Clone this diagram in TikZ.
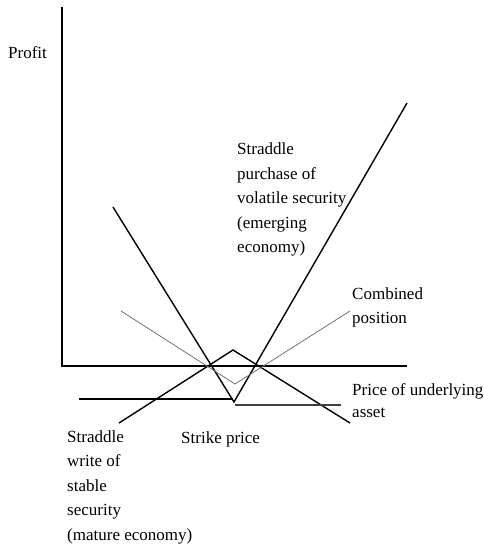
\documentclass[tikz,border=0pt]{standalone}
\usepackage{fontspec}
\setmainfont{Liberation Serif}
\begin{document}
\begin{tikzpicture}[x=1pt,y=-1pt,
  lbl/.style={anchor=north west,inner sep=0pt,align=left,font=\fontsize{17}{24.5}\selectfont},
  axis/.style={line width=1.2pt},
  curve/.style={line width=1.4pt},
  comb/.style={line width=0.8pt,black!55}]
\useasboundingbox (0,0) rectangle (484,544);
% axes
\coordinate (ytop) at (62,7);
\coordinate (orig) at (62,366);
\coordinate (xend) at (407,366);
\draw[axis] (ytop) -- (orig) -- (xend);
% straddle purchase
\coordinate (pl) at (113,207);
\coordinate (pv) at (234,402);
\coordinate (pr) at (407,103);
\draw[curve] (pl) -- (pv) -- (pr);
% straddle write
\coordinate (wl) at (119,423);
\coordinate (wp) at (233,350);
\coordinate (wr) at (350,423);
\draw[curve] (wl) -- (wp) -- (wr);
% combined position
\coordinate (cl) at (121,311);
\coordinate (cv) at (235,384);
\coordinate (cr) at (350,311);
\draw[comb] (cl) -- (cv) -- (cr);
% horizontal segments
\coordinate (hl1) at (79,399);
\coordinate (hr1) at (233,399);
\coordinate (hl2) at (235,405);
\coordinate (hr2) at (341,405);
\draw[line width=1.3pt] (hl1) -- (hr1);
\draw[line width=1.1pt,black!75] (hl2) -- (hr2);
% labels
\node[lbl] (profit) at (8,46) {Profit};
\node[lbl] (purch) at (237,143) {Straddle\\purchase of\\volatile security\\(emerging\\economy)};
\node[lbl] (combl) at (352,287) {Combined\\position};
\node[lbl,font=\fontsize{17}{22}\selectfont] (price) at (352,383) {Price of underlying\\asset};
\node[lbl] (strike) at (181,431) {Strike price};
\node[lbl] (write) at (67,430) {Straddle\\write of\\stable\\security\\(mature economy)};
\end{tikzpicture}
\end{document}
